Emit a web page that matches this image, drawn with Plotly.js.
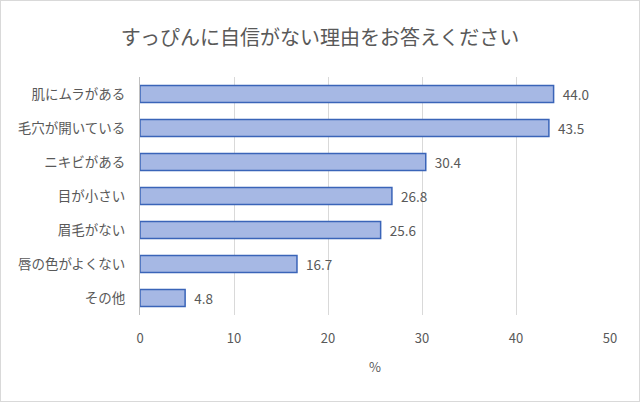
<!DOCTYPE html>
<html>
<head>
<meta charset="utf-8">
<script src="https://cdn.plot.ly/plotly-3.0.1.min.js"></script>
<style>
  html, body { margin: 0; padding: 0; background: #ffffff; }
  #chart { width: 640px; height: 402px; }
</style>
</head>
<body>
<div id="chart"></div>
<script>
// 回答項目（上から順）
const categories = ['肌にムラがある', '毛穴が開いている', 'ニキビがある', '目が小さい', '眉毛がない', '唇の色がよくない', 'その他'];
const values = [44.0, 43.5, 30.4, 26.8, 25.6, 16.7, 4.8];
const tickVals = [0, 10, 20, 30, 40, 50];

const font = '"Noto Sans CJK JP", "Noto Sans", sans-serif';

const trace = {
    type: 'bar',
    orientation: 'h',
    y: categories,
    x: values,
    width: 0.5,
    marker: {
        color: '#a6b8e4',
        line: { color: '#3a64b8', width: 1.5 }
    },
    text: values,
    texttemplate: '  %{x:.1f}',
    textposition: 'outside',
    constraintext: 'none',
    cliponaxis: false,
    textfont: { family: font, size: 13.5, color: '#595959' },
    hoverinfo: 'x+y'
};

const layout = {
    width: 640,
    height: 402,
    paper_bgcolor: '#ffffff',
    plot_bgcolor: '#ffffff',
    margin: { l: 140, r: 30, t: 77, b: 87 },
    showlegend: false,
    title: {
        text: 'すっぴんに自信がない理由をお答えください',
        font: { family: font, size: 20, color: '#595959' },
        x: 0.5,
        xanchor: 'center',
        y: 0.905,
        yanchor: 'middle'
    },
    xaxis: {
        range: [0, 50],
        tickvals: tickVals,
        showgrid: true,
        gridcolor: '#d9d9d9',
        gridwidth: 1,
        zeroline: false,
        showline: false,
        ticks: '',
        ticklabelstandoff: 14,
        tickfont: { family: font, size: 13, color: '#595959' },
        title: {
            text: '%',
            font: { family: font, size: 13, color: '#595959' },
            standoff: 16
        },
        fixedrange: true
    },
    yaxis: {
        autorange: 'reversed',
        showline: true,
        linecolor: '#bfbfbf',
        linewidth: 1,
        showgrid: false,
        ticks: '',
        ticklabelstandoff: 11,
        tickfont: { family: font, size: 13.5, color: '#595959' },
        fixedrange: true
    },
    shapes: [{
        type: 'rect',
        xref: 'paper', yref: 'paper',
        x0: -140 / 470, x1: 1 + 30 / 470,
        y0: -87 / 238, y1: 1 + 77 / 238,
        line: { color: '#d9d9d9', width: 2 },
        fillcolor: 'rgba(0,0,0,0)'
    }]
};

Plotly.newPlot('chart', [trace], layout, { displayModeBar: false, staticPlot: true });
</script>
</body>
</html>
